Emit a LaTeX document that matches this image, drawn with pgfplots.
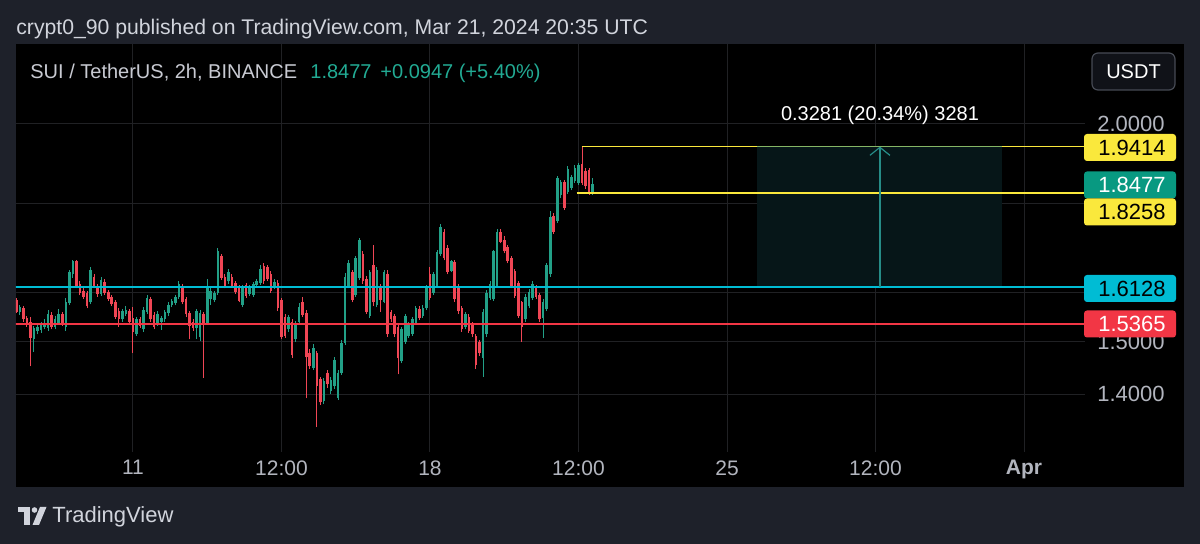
\documentclass[border=0pt]{standalone}
\usepackage{pgfplots}
\pgfplotsset{compat=1.18}
\usepackage{pgfplotstable}
\usepackage{fontspec}
\setmainfont{Liberation Sans}
\usetikzlibrary{arrows.meta}
\definecolor{bgout}{RGB}{30,33,42}
\definecolor{gridc}{RGB}{32,33,36}
\definecolor{upc}{RGB}{34,160,135}
\definecolor{dnc}{RGB}{240,70,85}
\definecolor{cyanl}{RGB}{0,188,212}
\definecolor{redl}{RGB}{242,54,69}
\definecolor{yell}{RGB}{250,232,60}
\definecolor{boxc}{RGB}{6,22,24}
\definecolor{arrc}{RGB}{38,140,135}
\definecolor{hdrtxt}{RGB}{209,212,220}
\definecolor{legtxt}{RGB}{200,202,210}
\definecolor{axtxt}{RGB}{178,181,190}
\definecolor{grtxt}{RGB}{34,171,148}
\definecolor{lastc}{RGB}{8,153,129}
\definecolor{btnb}{RGB}{70,74,84}
\definecolor{btnf}{RGB}{16,18,24}

% SUI/USDT 2h candles: x = hours since Mar 11 00:00
\pgfplotstableread{
x o h l c
-66 1.586 1.590 1.558 1.561
-64 1.561 1.575 1.555 1.570
-62 1.568 1.572 1.540 1.545
-60 1.548 1.552 1.530 1.535
-58 1.540 1.550 1.452 1.508
-56 1.505 1.532 1.480 1.528
-54 1.522 1.535 1.515 1.530
-52 1.524 1.540 1.518 1.535
-50 1.530 1.545 1.525 1.538
-48 1.528 1.565 1.522 1.556
-46 1.555 1.560 1.525 1.530
-44 1.530 1.552 1.525 1.545
-42 1.538 1.566 1.534 1.556
-40 1.556 1.560 1.532 1.535
-38 1.530 1.590 1.522 1.580
-36 1.578 1.650 1.575 1.645
-34 1.640 1.672 1.632 1.668
-32 1.668 1.672 1.610 1.615
-30 1.620 1.625 1.595 1.600
-28 1.605 1.615 1.588 1.592
-26 1.600 1.605 1.568 1.572
-24 1.580 1.655 1.576 1.650
-22 1.635 1.640 1.610 1.614
-20 1.614 1.620 1.592 1.597
-18 1.597 1.635 1.594 1.628
-16 1.624 1.630 1.596 1.600
-14 1.602 1.606 1.584 1.588
-12 1.592 1.596 1.572 1.576
-10 1.580 1.585 1.546 1.550
-8 1.562 1.568 1.530 1.545
-6 1.545 1.566 1.540 1.562
-4 1.556 1.572 1.552 1.565
-2 1.562 1.566 1.535 1.540
0 1.548 1.570 1.478 1.520
2 1.515 1.550 1.512 1.545
4 1.545 1.550 1.528 1.532
6 1.525 1.570 1.520 1.565
8 1.561 1.596 1.556 1.590
10 1.588 1.592 1.540 1.545
12 1.555 1.560 1.525 1.530
14 1.538 1.562 1.532 1.556
16 1.540 1.552 1.524 1.548
18 1.545 1.565 1.540 1.560
20 1.558 1.580 1.552 1.575
22 1.575 1.588 1.570 1.584
24 1.578 1.596 1.574 1.592
26 1.592 1.625 1.588 1.620
28 1.615 1.620 1.576 1.580
30 1.588 1.592 1.550 1.556
32 1.558 1.562 1.505 1.532
34 1.540 1.545 1.522 1.528
36 1.528 1.566 1.505 1.562
38 1.510 1.565 1.502 1.558
40 1.556 1.560 1.430 1.538
42 1.538 1.630 1.534 1.612
44 1.588 1.610 1.575 1.605
46 1.585 1.605 1.580 1.600
48 1.600 1.697 1.596 1.690
50 1.680 1.685 1.628 1.633
52 1.635 1.640 1.610 1.615
54 1.625 1.652 1.620 1.645
56 1.635 1.640 1.612 1.615
58 1.622 1.626 1.598 1.602
60 1.612 1.616 1.580 1.584
62 1.575 1.616 1.570 1.612
64 1.618 1.622 1.590 1.594
66 1.598 1.616 1.594 1.612
68 1.596 1.624 1.592 1.620
70 1.618 1.630 1.614 1.626
72 1.622 1.660 1.618 1.652
74 1.658 1.664 1.620 1.625
76 1.655 1.660 1.626 1.630
78 1.640 1.646 1.600 1.604
80 1.612 1.630 1.608 1.624
82 1.622 1.628 1.562 1.568
84 1.585 1.590 1.505 1.510
86 1.550 1.556 1.508 1.512
88 1.525 1.555 1.520 1.550
90 1.540 1.545 1.468 1.475
92 1.505 1.542 1.500 1.538
94 1.540 1.578 1.535 1.571
96 1.582 1.592 1.550 1.555
98 1.558 1.564 1.392 1.470
100 1.478 1.485 1.448 1.452
102 1.450 1.495 1.446 1.488
104 1.478 1.482 1.340 1.415
106 1.428 1.432 1.380 1.385
108 1.388 1.430 1.382 1.425
110 1.440 1.445 1.412 1.418
112 1.405 1.432 1.400 1.427
114 1.415 1.470 1.410 1.465
116 1.393 1.445 1.390 1.440
118 1.440 1.504 1.436 1.498
120 1.498 1.642 1.494 1.635
122 1.615 1.672 1.610 1.665
124 1.645 1.650 1.580 1.586
126 1.596 1.680 1.592 1.676
128 1.632 1.720 1.628 1.716
130 1.684 1.690 1.620 1.625
132 1.630 1.636 1.556 1.560
134 1.552 1.650 1.548 1.645
136 1.660 1.705 1.572 1.580
138 1.575 1.656 1.570 1.650
140 1.615 1.620 1.560 1.585
142 1.582 1.650 1.578 1.645
144 1.640 1.650 1.510 1.515
146 1.560 1.565 1.540 1.545
148 1.552 1.556 1.510 1.515
150 1.530 1.534 1.437 1.468
152 1.462 1.530 1.458 1.525
154 1.500 1.556 1.496 1.552
156 1.512 1.540 1.508 1.535
158 1.516 1.550 1.512 1.545
160 1.538 1.572 1.534 1.568
162 1.566 1.572 1.544 1.548
164 1.552 1.574 1.548 1.568
166 1.568 1.618 1.564 1.612
168 1.640 1.655 1.586 1.590
170 1.600 1.645 1.596 1.640
172 1.615 1.694 1.610 1.688
174 1.684 1.752 1.680 1.745
176 1.735 1.742 1.670 1.675
178 1.698 1.704 1.640 1.645
180 1.648 1.672 1.644 1.668
182 1.666 1.672 1.582 1.588
184 1.615 1.620 1.556 1.562
186 1.568 1.572 1.520 1.525
188 1.530 1.560 1.525 1.556
190 1.550 1.556 1.518 1.522
192 1.535 1.540 1.510 1.515
194 1.512 1.516 1.448 1.455
196 1.500 1.504 1.472 1.478
198 1.468 1.566 1.432 1.560
200 1.515 1.606 1.510 1.600
202 1.590 1.626 1.585 1.620
204 1.588 1.694 1.584 1.690
206 1.615 1.740 1.612 1.735
208 1.735 1.740 1.708 1.712
210 1.716 1.726 1.686 1.690
212 1.700 1.705 1.664 1.668
214 1.676 1.680 1.610 1.615
216 1.648 1.652 1.590 1.594
218 1.622 1.626 1.548 1.552
220 1.580 1.584 1.500 1.530
222 1.545 1.598 1.540 1.592
224 1.572 1.608 1.568 1.602
226 1.590 1.626 1.586 1.620
228 1.612 1.618 1.588 1.592
230 1.595 1.600 1.540 1.545
232 1.548 1.588 1.508 1.582
234 1.566 1.665 1.562 1.660
236 1.640 1.782 1.635 1.770
238 1.772 1.778 1.730 1.735
240 1.760 1.868 1.755 1.862
242 1.820 1.858 1.815 1.852
244 1.852 1.858 1.785 1.790
246 1.828 1.892 1.824 1.885
248 1.838 1.870 1.832 1.865
250 1.854 1.895 1.850 1.888
252 1.850 1.900 1.846 1.895
254 1.898 1.941 1.845 1.850
256 1.880 1.886 1.835 1.842
258 1.882 1.888 1.822 1.826
260 1.825 1.862 1.822 1.8477
}\candles

\newcommand{\pricebox}[4]{%
  \fill[#2, rounded corners=1.5pt] (1084,#1-13.5) rectangle (1176,#1+13.5);
  \node[anchor=east, inner sep=0pt, text=#3, font=\fontsize{11}{13}\selectfont] at (1166,#1) {#4};
}

\begin{document}
\begin{tikzpicture}
\useasboundingbox (0,0) rectangle (600pt,-272pt);
\fill[bgout] (0,0) rectangle (600pt,-272pt);
\fill[black] (8pt,-22pt) rectangle (592pt,-243.5pt);

\begin{axis}[
  at={(8pt,-226pt)}, anchor=south west,
  scale only axis, width=534.5pt, height=204pt,
  xmin=-66.17, xmax=538.5,
  ymode=log, ymin=1.297, ymax=2.2226,
  axis line style={draw=none},
  tick style={draw=none},
  major tick length=0pt,
  minor tick num=0, yminorticks=false,
  xtick={0,84,168,252,336,420,504},
  xticklabels={11,12:00,18,12:00,25,12:00,\textbf{Apr}},
  ytick={1.4,1.5,1.6,1.8,2.0},
  yticklabels={1.4000,1.5000,,,2.0000},
  yticklabel pos=right,
  grid=major,
  major grid style={draw=gridc, line width=0.5pt},
  xticklabel style={font=\fontsize{10.5}{12}\selectfont, text=axtxt, anchor=north, inner sep=0pt, yshift=-4pt},
  yticklabel style={font=\fontsize{11}{13}\selectfont, text=axtxt, anchor=east, inner sep=0pt, xshift=40pt},
  clip=true,
]
% projection box
\addplot[fill=boxc, draw=none, mark=none] coordinates {(353,1.6128) (491.5,1.6128) (491.5,1.9414) (353,1.9414)} -- cycle;

% wicks
\addplot[draw=none, mark=none,
  x filter/.expression={\thisrow{c}<\thisrow{o} ? nan : x},
  error bars/.cd, y dir=plus, y explicit, error mark=none,
  error bar style={draw=upc, line width=0.5pt}]
  table[x=x, y=l, y error plus expr=\thisrow{h}-\thisrow{l}] {\candles};
\addplot[draw=none, mark=none,
  x filter/.expression={\thisrow{c}<\thisrow{o} ? x : nan},
  error bars/.cd, y dir=plus, y explicit, error mark=none,
  error bar style={draw=dnc, line width=0.5pt}]
  table[x=x, y=l, y error plus expr=\thisrow{h}-\thisrow{l}] {\candles};
% bodies
\addplot[draw=none, mark=none,
  x filter/.expression={\thisrow{c}<\thisrow{o} ? nan : x},
  error bars/.cd, y dir=plus, y explicit, error mark=none,
  error bar style={draw=upc, line width=1.3pt}]
  table[x=x, y=o, y error plus expr=\thisrow{c}-\thisrow{o}] {\candles};
\addplot[draw=none, mark=none,
  x filter/.expression={\thisrow{c}<\thisrow{o} ? x : nan},
  error bars/.cd, y dir=plus, y explicit, error mark=none,
  error bar style={draw=dnc, line width=1.3pt}]
  table[x=x, y=c, y error plus expr=\thisrow{o}-\thisrow{c}] {\candles};

% level lines
\addplot[cyanl, line width=1pt, mark=none] coordinates {(-70,1.6128) (545,1.6128)};
\addplot[redl, line width=1pt, mark=none] coordinates {(-70,1.5365) (545,1.5365)};
\addplot[yell, line width=0.8pt, mark=none] coordinates {(254,1.9414) (545,1.9414)};
\addplot[yell, line width=0.8pt, mark=none] coordinates {(251,1.8258) (545,1.8258)};
\addplot[yell!45!arrc, line width=0.9pt, mark=none] coordinates {(353,1.9414) (491.5,1.9414)};
% projection arrow
\addplot[arrc, line width=0.6pt, mark=none, -{Straight Barb[length=4pt, width=10pt, line width=0.6pt]}] coordinates {(422.5,1.6128) (422.5,1.9414)};
\end{axis}

\begin{scope}[x=0.5pt, y=-0.5pt]
% header
\node[anchor=base west, inner sep=0pt, text=hdrtxt, font=\fontsize{10.6}{12}\selectfont] at (16,35) {crypt0\_90 published on TradingView.com, Mar 21, 2024 20:35 UTC};
% legend
\node[anchor=base west, inner sep=0pt, text=legtxt, font=\fontsize{10}{12}\selectfont] at (30,79) {SUI / TetherUS, 2h, BINANCE};
\node[anchor=base west, inner sep=0pt, text=grtxt, font=\fontsize{10}{12}\selectfont] at (310,79) {1.8477};
\node[anchor=base west, inner sep=0pt, text=grtxt, font=\fontsize{10}{12}\selectfont] at (380,79) {+0.0947 (+5.40\%)};
% USDT button
\draw[draw=btnb, fill=btnf, rounded corners=3pt, line width=0.6pt] (1092,53) rectangle (1175,90);
\node[text=white, inner sep=0pt, font=\fontsize{10}{12}\selectfont] at (1133.5,71.5) {USDT};
% ruler text
\node[text=white, inner sep=0pt, font=\fontsize{10}{12}\selectfont] at (880,115) {0.3281 (20.34\%) 3281};
% price labels
\pricebox{147.5}{yell}{black}{1.9414}
\pricebox{185}{lastc}{white}{1.8477}
\pricebox{212}{yell}{black}{1.8258}
\pricebox{288.5}{cyanl}{black}{1.6128}
\pricebox{324}{redl}{white}{1.5365}
% TradingView logo
\fill[hdrtxt] (18,507) rectangle (30,512.5);
\fill[hdrtxt] (24,507) rectangle (30,525);
\fill[hdrtxt] (34.5,510) circle (2.8);
\fill[hdrtxt] (40,507) -- (46.5,507) -- (39,525) -- (32.5,525) -- cycle;
\node[anchor=base west, inner sep=0pt, text=hdrtxt, font=\fontsize{11}{13}\selectfont] at (52,523) {TradingView};
\end{scope}
\end{tikzpicture}
\end{document}
